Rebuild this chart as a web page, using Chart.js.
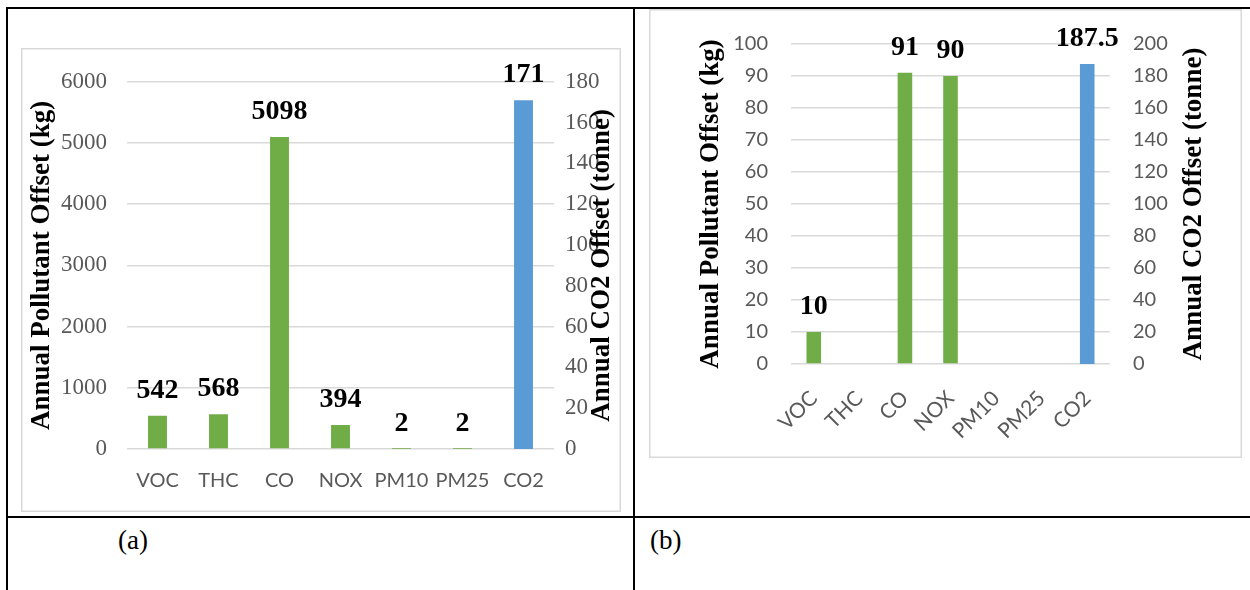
<!DOCTYPE html>
<html><head><meta charset="utf-8">
<script src="https://cdn.jsdelivr.net/npm/chart.js@4"></script>
<style>
html,body{margin:0;padding:0;background:#fff;}
body{width:1250px;height:590px;position:relative;overflow:hidden;}
.line{position:absolute;background:#000;}
.frame{position:absolute;box-shadow: inset 0 0 0 1.5px #d9d9d9;}
.frame canvas{position:absolute;left:0;top:0;}
.cap{position:absolute;font-family:"Liberation Serif","Times New Roman",serif;font-size:27px;line-height:30px;color:#000;}
</style></head><body>
<div class="line" style="left:6px;top:7px;width:1244px;height:2px"></div>
<div class="line" style="left:6px;top:7px;width:2px;height:583px"></div>
<div class="line" style="left:633px;top:7px;width:2px;height:583px"></div>
<div class="line" style="left:6px;top:516px;width:1244px;height:2px"></div>
<div class="frame" style="left:21px;top:48px;width:600px;height:464px"><canvas id="ca" width="600" height="464"></canvas></div>
<div class="frame" style="left:649px;top:9px;width:593px;height:449px"><canvas id="cb" width="593" height="449"></canvas></div>
<div class="cap" style="left:118px;top:525px">(a)</div>
<div class="cap" style="left:650px;top:525px">(b)</div>
<script>
const categories = ['VOC','THC','CO','NOX','PM10','PM25','CO2'];
const pollutantA = [542, 568, 5098, 394, 2, 2, null];
const co2A = [null, null, null, null, null, null, 171];
const pollutantB = [10, 0, 91, 90, 0, 0, null];
const co2B = [null, null, null, null, null, null, 187.5];
const leftTitle = 'Annual Pollutant Offset (kg)';
const rightTitle = 'Annual CO2 Offset (tonne)';

const GREEN = '#70AD47', BLUE = '#5B9BD5', GRAY = '#595959', GRID = '#d9d9d9';
const SERIF = '"Liberation Serif","Times New Roman",serif';
const SANS = 'Lato, "Open Sans", sans-serif';

const valueLabels = {
  id: 'valueLabels',
  afterDatasetsDraw(chart) {
    const ctx = chart.ctx;
    ctx.save();
    ctx.font = 'bold 28px ' + SERIF;
    ctx.fillStyle = '#000';
    ctx.textAlign = 'center';
    ctx.textBaseline = 'alphabetic';
    chart.data.datasets.forEach((ds, i) => {
      const meta = chart.getDatasetMeta(i);
      meta.data.forEach((bar, j) => {
        const v = ds.data[j];
        if (v === null || v === 0) return;
        ctx.fillText(String(v), bar.x, bar.y - 18);
      });
    });
    ctx.restore();
  }
};

const rightTitlePlugin = {
  id: 'rightTitle',
  afterDraw(chart, args, opts) {
    const s = chart.scales.y1;
    const ctx = chart.ctx;
    ctx.save();
    ctx.font = 'bold 27px ' + SERIF;
    ctx.fillStyle = '#000';
    ctx.textAlign = 'center';
    ctx.textBaseline = 'middle';
    ctx.translate(s.left + opts.offset, (s.top + s.bottom) / 2);
    ctx.rotate(-Math.PI / 2);
    ctx.fillText(opts.text, 0, 0);
    ctx.restore();
  }
};

function makeChart(id, green, blue, o) {
  return new Chart(document.getElementById(id), {
    type: 'bar',
    data: {
      labels: categories,
      datasets: [
        { data: green, yAxisID: 'y', backgroundColor: GREEN, barPercentage: o.bar, categoryPercentage: 1, grouped: false },
        { data: blue, yAxisID: 'y1', backgroundColor: BLUE, barPercentage: o.bar, categoryPercentage: 1, grouped: false }
      ]
    },
    options: {
      responsive: false,
      animation: false,
      layout: { padding: { top: o.top, left: 0, right: 0, bottom: 0 } },
      plugins: {
        legend: { display: false },
        tooltip: { enabled: false },
        rightTitle: { text: rightTitle, offset: o.rtOffset }
      },
      scales: {
        x: {
          grid: { display: false, drawTicks: false },
          border: { display: false },
          ticks: { color: GRAY, font: { family: SANS, size: o.xSize }, padding: o.xPad, minRotation: o.rot, maxRotation: o.rot, autoSkip: false },
          afterFit(s) { s.height = o.xH; }
        },
        y: {
          position: 'left', min: 0, max: o.yMax,
          ticks: { stepSize: o.yStep, color: GRAY, font: { family: o.tickFont, size: o.tickSize }, padding: o.yPad, callback: v => String(v) },
          grid: { color: GRID, lineWidth: 1.5, drawTicks: false },
          border: { display: false },
          title: { display: true, text: leftTitle, color: '#000', font: { family: SERIF, size: 27, weight: 'bold' }, padding: { top: o.ltPad, bottom: 0 } },
          afterFit(s) { s.width = o.yW; }
        },
        y1: {
          position: 'right', min: 0, max: o.y1Max,
          ticks: { stepSize: o.y1Step, color: GRAY, font: { family: o.tickFont, size: o.tickSize }, padding: o.y1Pad, callback: v => String(v) },
          grid: { display: false, drawTicks: false },
          border: { display: false },
          afterFit(s) { s.width = o.y1W; }
        }
      }
    },
    plugins: [valueLabels, rightTitlePlugin]
  });
}

makeChart('ca', pollutantA, co2A, {
  bar: 0.31, top: 31, rtOffset: 48, xPad: 20, xSize: 20, rot: 0, xH: 63,
  yMax: 6000, yStep: 1000, tickFont: SERIF, tickSize: 23, yPad: 20, ltPad: 5, yW: 106,
  y1Max: 180, y1Step: 20, y1Pad: 11, y1W: 67
});
makeChart('cb', pollutantB, co2B, {
  bar: 0.32, top: 28, rtOffset: 84, xPad: 22, xSize: 21, rot: 45, xH: 94,
  yMax: 100, yStep: 10, tickFont: SANS, tickSize: 20, yPad: 23, ltPad: 46, yW: 142,
  y1Max: 200, y1Step: 20, y1Pad: 23, y1W: 132
});
</script>
</body></html>
